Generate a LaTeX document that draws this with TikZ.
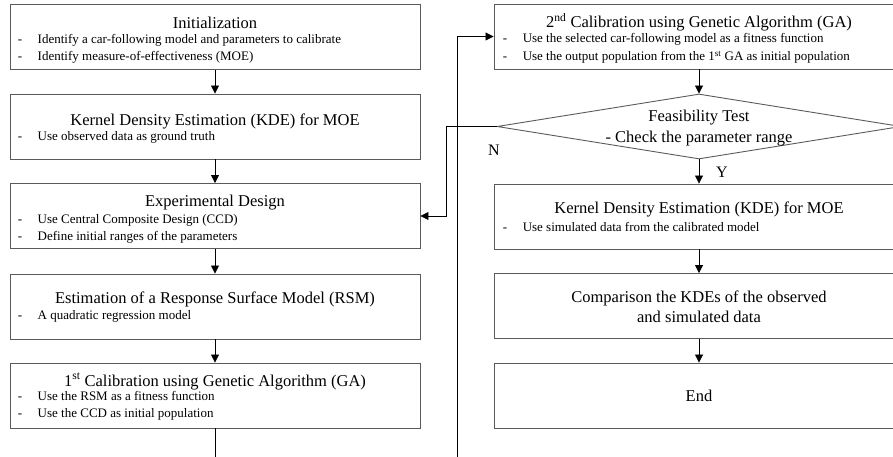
\documentclass[tikz,border=0pt]{standalone}
\usepackage{fontspec}
\setmainfont{Liberation Serif}
\usetikzlibrary{shapes.geometric,arrows.meta,calc}
\definecolor{boxgray}{HTML}{5A5A5A}
\newcommand{\dashitem}[1]{\makebox[20pt][l]{-}#1}
\begin{document}
\begin{tikzpicture}[x=1pt,y=-1pt,
  box/.style={draw=boxgray,line width=0.9pt,minimum width=410pt,minimum height=65pt,inner sep=0pt},
  ttl/.style={font=\fontsize{16.5}{19}\selectfont,inner sep=0pt},
  itm/.style={font=\fontsize{13}{15}\selectfont,inner sep=0pt,anchor=mid west},
  lbl/.style={font=\fontsize{16}{18}\selectfont,inner sep=0pt},
  arr/.style={draw=black,line width=0.8pt,-{Triangle[length=8pt,width=8pt]}},
  ln/.style={draw=black,line width=0.8pt},
]
\useasboundingbox (0,0) rectangle (893,457);
\clip (0,0) rectangle (893,457);

% ---------- left column ----------
\node[box] (init) at (215,37) {};
\node[ttl] (initT) at ($(init.north)+(0,19)$) {Initialization};
\node[itm] (initA) at ($(init.north west)+(8,37)$) {\dashitem{Identify a car-following model and parameters to calibrate}};
\node[itm] (initB) at ($(init.north west)+(8,54)$) {\dashitem{Identify measure-of-effectiveness (MOE)}};

\node[box] (kde1) at (215,126.5) {};
\node[ttl] (kde1T) at ($(kde1.north)+(0,28)$) {Kernel Density Estimation (KDE) for MOE};
\node[itm] (kde1A) at ($(kde1.north west)+(8,45)$) {\dashitem{Use observed data as ground truth}};

\node[box] (exp) at (215,216) {};
\node[ttl] (expT) at ($(exp.north)+(0,20)$) {Experimental Design};
\node[itm] (expA) at ($(exp.north west)+(8,38)$) {\dashitem{Use Central Composite Design (CCD)}};
\node[itm] (expB) at ($(exp.north west)+(8,55)$) {\dashitem{Define initial ranges of the parameters}};

\node[box] (rsm) at (215,306.5) {};
\node[ttl] (rsmT) at ($(rsm.north)+(0,26)$) {Estimation of a Response Surface Model (RSM)};
\node[itm] (rsmA) at ($(rsm.north west)+(8,44)$) {\dashitem{A quadratic regression model}};

\node[box] (ga1) at (215,395.5) {};
\node[ttl] (ga1T) at ($(ga1.north)+(0,19)$) {1\textsuperscript{st} Calibration using Genetic Algorithm (GA)};
\node[itm] (ga1A) at ($(ga1.north west)+(8,36)$) {\dashitem{Use the RSM as a fitness function}};
\node[itm] (ga1B) at ($(ga1.north west)+(8,53)$) {\dashitem{Use the CCD as initial population}};

% ---------- right column ----------
\node[box] (ga2) at (699,36.5) {};
\node[ttl] (ga2T) at ($(ga2.north)+(0,19)$) {2\textsuperscript{nd} Calibration using Genetic Algorithm (GA)};
\node[itm] (ga2A) at ($(ga2.north west)+(9,37)$) {\dashitem{Use the selected car-following model as a fitness function}};
\node[itm] (ga2B) at ($(ga2.north west)+(9,55)$) {\dashitem{Use the output population from the 1\textsuperscript{st} GA as initial population}};

\node[diamond,draw=boxgray,line width=0.9pt,minimum width=404pt,minimum height=65pt,inner sep=0pt] (feas) at (699,126.5) {};
\node[ttl] (feasT) at (699,118) {Feasibility Test};
\node[ttl] (feasB) at (699,139) {- Check the parameter range};

\node[box] (kde2) at (699,216.5) {};
\node[ttl] (kde2T) at ($(kde2.north)+(0,26)$) {Kernel Density Estimation (KDE) for MOE};
\node[itm] (kde2A) at ($(kde2.north west)+(9,46)$) {\dashitem{Use simulated data from the calibrated model}};

\node[box] (comp) at (699,306) {};
\node[ttl] (compA) at (699,298) {Comparison the KDEs of the observed};
\node[ttl] (compB) at (699,317) {and simulated data};

\node[box] (fin) at (699,395.5) {};
\node[ttl] (finT) at (699,396) {End};

\node[lbl] (nlab) at (494,150) {N};
\node[lbl] (ylab) at (722,172) {Y};

% ---------- connectors ----------
\draw[arr] (init) -- (kde1);
\draw[arr] (kde1) -- (exp);
\draw[arr] (exp) -- (rsm);
\draw[arr] (rsm) -- (ga1);
\coordinate (cutL) at (215,457);
\draw[ln] (ga1.south) -- (cutL);

\coordinate (cutR) at (457,457);
\draw[arr] (cutR) |- (ga2.west);
\draw[arr] (ga2) -- (feas.north);
\draw[arr] (feas.south) -- (kde2.north);
\draw[arr] (kde2) -- (comp);
\draw[arr] (comp) -- (fin);

\coordinate (nturn) at (446,126.5);
\draw[arr] (feas.west) -- (nturn) |- (exp.east);
\end{tikzpicture}
\end{document}
